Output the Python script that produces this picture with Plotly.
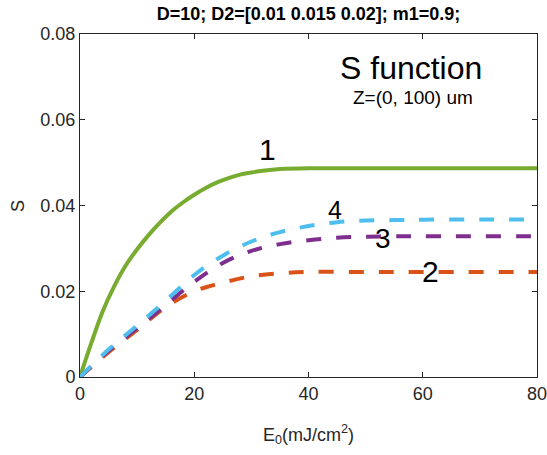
import plotly.graph_objects as go

# ---- data ----
e_green = [0, 2, 4, 6, 8, 10, 12, 14, 16, 18, 20, 22, 24, 26, 28, 30, 32, 35, 40, 45, 50, 60, 70, 80]
s_green = [0, 0.0080, 0.0154, 0.0212, 0.0260, 0.0298, 0.0331, 0.0360, 0.0386, 0.0407, 0.0425,
           0.0441, 0.0454, 0.0464, 0.0472, 0.0477, 0.0481, 0.0485, 0.0487, 0.0487, 0.0487,
           0.0487, 0.0487, 0.0487]

e_orange = [0, 5, 10, 15, 20, 25, 30, 35, 40, 50, 60, 80]
s_orange = [0, 0.0058, 0.0110, 0.0163, 0.0200, 0.0220, 0.0235, 0.0242, 0.0245, 0.0245, 0.0245, 0.0245]

e_purple = [0, 5, 10, 15, 20, 25, 30, 35, 40, 45, 50, 55, 60, 80]
s_purple = [0, 0.0061, 0.0114, 0.0168, 0.0222, 0.0266, 0.0294, 0.0310, 0.0319, 0.0325, 0.0327,
            0.0328, 0.0328, 0.0328]

e_blue = [0, 5, 10, 15, 20, 25, 30, 35, 40, 45, 50, 55, 60, 80]
s_blue = [0, 0.0064, 0.0120, 0.0178, 0.0238, 0.0283, 0.0316, 0.0338, 0.0352, 0.0361, 0.0365,
          0.0366, 0.0367, 0.0367]

x_ticks = [0, 20, 40, 60, 80]
y_ticks = [0, 0.02, 0.04, 0.06, 0.08]
y_tick_labels = ["0", "0.02", "0.04", "0.06", "0.08"]

curve_labels = ["1", "2", "3", "4"]
label_x = [32.9, 61.3, 53.1, 44.7]
label_y = [0.0530, 0.0245, 0.0324, 0.0390]
label_size = [30, 30, 28, 25]

title_text = "D=10; D2=[0.01 0.015 0.02]; m1=0.9;"

FONT = "Liberation Sans, Arial, sans-serif"
AX = "#262626"

fig = go.Figure()
fig.add_trace(go.Scatter(x=e_green, y=s_green, mode="lines", line=dict(color="#77AC30", width=4, shape="spline"), showlegend=False))
fig.add_trace(go.Scatter(x=e_orange, y=s_orange, mode="lines", line=dict(color="#D95319", width=4, dash="15px,15px", shape="spline"), showlegend=False))
fig.add_trace(go.Scatter(x=e_purple, y=s_purple, mode="lines", line=dict(color="#7E2F8E", width=4, dash="15px,15px", shape="spline"), showlegend=False))
fig.add_trace(go.Scatter(x=e_blue, y=s_blue, mode="lines", line=dict(color="#4DBEEE", width=4, dash="15px,15px", shape="spline"), showlegend=False))

for t, x, y, s in zip(curve_labels, label_x, label_y, label_size):
    fig.add_annotation(x=x, y=y, text=t, showarrow=False, font=dict(family=FONT, size=s, color="#000000"),
                       xanchor="center", yanchor="middle")

fig.add_annotation(x=58.0, y=0.0721, text="S function", showarrow=False,
                   font=dict(family=FONT, size=32, color="#000000"), xanchor="center", yanchor="middle")
fig.add_annotation(x=58.3, y=0.0651, text="Z=(0, 100) um", showarrow=False,
                   font=dict(family=FONT, size=19, color="#000000"), xanchor="center", yanchor="middle")

# axis titles
fig.add_annotation(xref="paper", yref="paper", x=-0.137, y=0.5, text="S", textangle=-90, showarrow=False,
                   font=dict(family=FONT, size=18, color=AX), xanchor="center", yanchor="middle")
fig.add_annotation(xref="paper", yref="paper", x=0.5, y=-0.125, text="E<sub>0</sub>(mJ/cm<sup>2</sup>)",
                   showarrow=False, font=dict(family=FONT, size=18, color=AX), xanchor="center", yanchor="top")

fig.update_layout(
    width=547, height=455,
    margin=dict(l=80, r=10, t=34, b=78, autoexpand=False),
    paper_bgcolor="white", plot_bgcolor="white",
    title=dict(text="<b>" + title_text + "</b>", x=0.5, xref="paper", y=1 - 14 / 455, yanchor="middle",
               font=dict(family=FONT, size=18, color="#000000")),
    xaxis=dict(range=[0, 80], tickvals=x_ticks, ticktext=[str(v) for v in x_ticks], showgrid=False, zeroline=False,
               showline=True, linecolor=AX, linewidth=1, mirror="ticks", ticks="inside", ticklen=5,
               ticklabeloverflow="allow", automargin=False,
               tickcolor=AX, tickfont=dict(family=FONT, size=18, color=AX)),
    yaxis=dict(range=[0, 0.08], tickvals=y_ticks, ticktext=y_tick_labels, showgrid=False, zeroline=False,
               showline=True, linecolor=AX, linewidth=1, mirror="ticks", ticks="inside", ticklen=5,
               automargin=False,
               tickcolor=AX, tickfont=dict(family=FONT, size=18, color=AX)),
)

fig.write_html("out.html", config={"displayModeBar": False},
               post_script="document.body.style.margin='0';document.body.style.overflow='hidden';")
